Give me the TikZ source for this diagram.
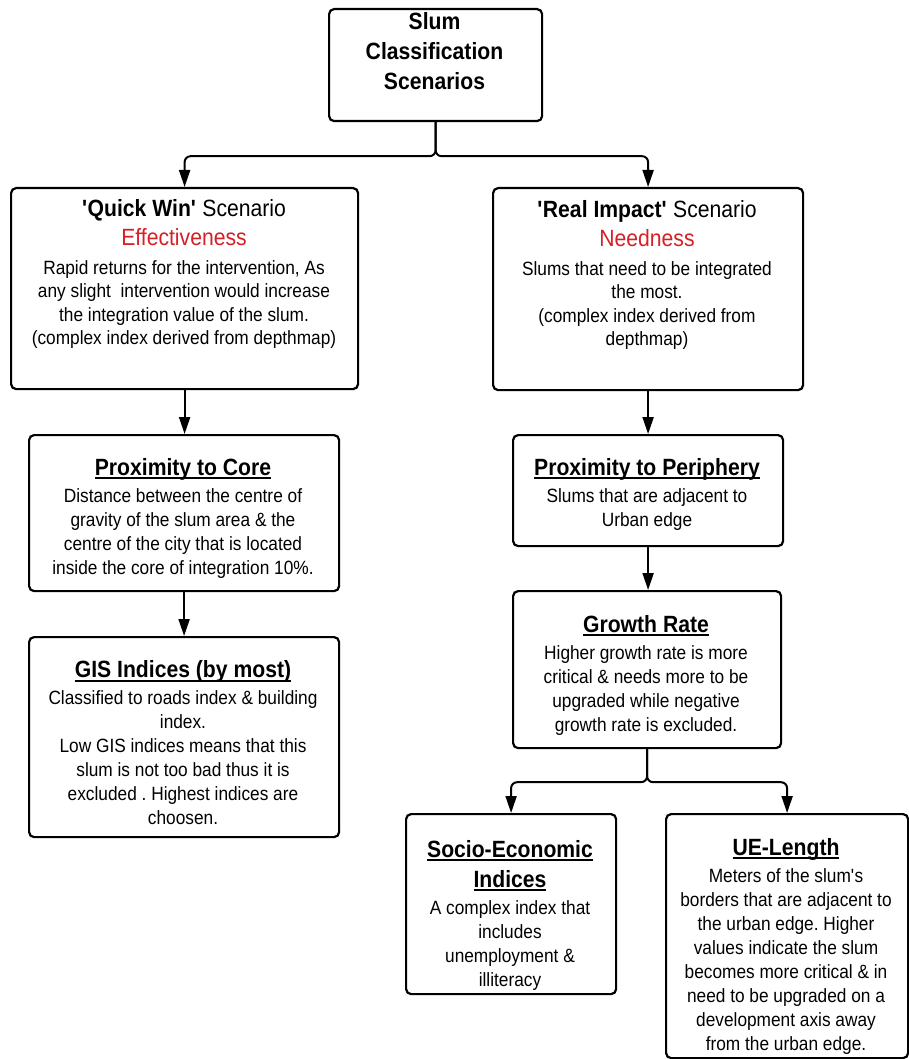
\documentclass[tikz,border=0pt]{standalone}
\usepackage{fontspec}
\setmainfont{Liberation Sans}[FakeStretch=0.9]
\usetikzlibrary{arrows.meta,calc}
\definecolor{alertred}{RGB}{214,32,39}
\frenchspacing

% bold heading with a solid underline
\newsavebox\headbox
\newcommand\ulhead[1]{\sbox\headbox{\bfseries #1}\rlap{\rule[-3.6pt]{\wd\headbox}{1.5pt}}\usebox\headbox}
\newcommand\headline[1]{{\fontsize{23.5}{29}\selectfont\ulhead{#1}}}
\newcommand\bigline[1]{{\fontsize{23.5}{29}\selectfont #1}}
\newcommand\sq{\textquotesingle}

\tikzset{
  box/.style={draw, line width=2.2pt, rounded corners=5pt, inner sep=0pt, anchor=north west},
  txt/.style={align=center, inner sep=0pt, font=\fontsize{19.2}{24}\selectfont},
  conn/.style={line width=2pt, -{Triangle[length=17pt,width=11pt]}},
}

\begin{document}
\begin{tikzpicture}[x=1pt, y=-1pt]
\useasboundingbox[fill=white] (0,0) rectangle (909,1059);

% boxes
\node[box, minimum width=213pt, minimum height=112pt] (top)    at (328,8)   {};
\node[box, minimum width=347pt, minimum height=201pt] (quick)  at (10,187)  {};
\node[box, minimum width=310pt, minimum height=202pt] (real)   at (492,187) {};
\node[box, minimum width=310pt, minimum height=156pt] (core)   at (28,434)  {};
\node[box, minimum width=310pt, minimum height=200pt] (gis)    at (28,636)  {};
\node[box, minimum width=270pt, minimum height=111pt] (peri)   at (512,434) {};
\node[box, minimum width=268pt, minimum height=157pt] (growth) at (512,590) {};
\node[box, minimum width=210pt, minimum height=180pt] (socio)  at (405,813) {};
\node[box, minimum width=242pt, minimum height=244pt] (ue)     at (665,813) {};

% texts
\node[txt, font=\bfseries\fontsize{23.5}{30}\selectfont] (ttop) at (434.5,51)
  {Slum\\Classification\\Scenarios};

\node[txt, font=\fontsize{19.2}{23.3}\selectfont] (tquick) at (184,274)
  {\bigline{\textbf{\sq Quick Win\sq} Scenario}\\[5.7pt]
   \bigline{\color{alertred}Effectiveness}\\[5.7pt]
   Rapid returns for the intervention, As\\
   any slight\ \ intervention would increase\\
   the integration value of the slum.\\
   (complex index derived from depthmap)};

\node[txt, font=\fontsize{19.2}{23.3}\selectfont] (treal) at (647,275)
  {\bigline{\textbf{\sq Real Impact\sq} Scenario}\\[5.7pt]
   \bigline{\color{alertred}Needness}\\[5.7pt]
   Slums that need to be integrated\\
   the most.\\
   (complex index derived from\\
   depthmap)};

\node[txt] (tcore) at (183,518)
  {\headline{Proximity to Core}\\[3pt]
   Distance between the centre of\\
   gravity of the slum area \& the\\
   centre of the city that is located\\
   inside the core of integration 10\%.};

\node[txt] (tgis) at (183,743)
  {\headline{GIS Indices (by most)}\\[3pt]
   Classified to roads index \& building\\
   index.\\
   Low GIS indices means that this\\
   slum is not too bad thus it is\\
   excluded . Highest indices are\\
   choosen.};

\node[txt] (tperi) at (647,494)
  {\headline{Proximity to Periphery}\\[3pt]
   Slums that are adjacent to\\
   Urban edge};

\node[txt] (tgrowth) at (646,675)
  {\headline{Growth Rate}\\[3pt]
   Higher growth rate is more\\
   critical \& needs more to be\\
   upgraded while negative\\
   growth rate is excluded.};

\node[txt] (tsocio) at (510,915)
  {\headline{Socio-Economic}\\[6pt]
   \headline{Indices}\\[3pt]
   A complex index that\\
   includes\\
   unemployment \&\\
   illiteracy};

\node[txt] (tue) at (786,946)
  {\headline{UE-Length}\\[3pt]
   Meters of the slum\sq s\\
   borders that are adjacent to\\
   the urban edge. Higher\\
   values indicate the slum\\
   becomes more critical \& in\\
   need to be upgraded on a\\
   development axis away\\
   from the urban edge.};

% connectors
\coordinate (j1) at ($(top.south)+(0,34)$);
\draw[conn, rounded corners=6pt] (top.south) -- (j1) -| (quick.north);
\draw[conn, rounded corners=6pt] (top.south) -- (j1) -| (real.north);

\draw[conn] (quick.south) -- (quick.south |- core.north);
\draw[conn] (core.south) -- (core.south |- gis.north);
\draw[conn] (real.south) -- (real.south |- peri.north);
\draw[conn] (peri.south) -- (peri.south |- growth.north);

\coordinate (j2) at ($(growth.south)+(0,33)$);
\draw[conn, rounded corners=6pt] (growth.south) -- (j2) -| (socio.north);
\draw[conn, rounded corners=6pt] (growth.south) -- (j2) -| (ue.north);
\end{tikzpicture}
\end{document}
